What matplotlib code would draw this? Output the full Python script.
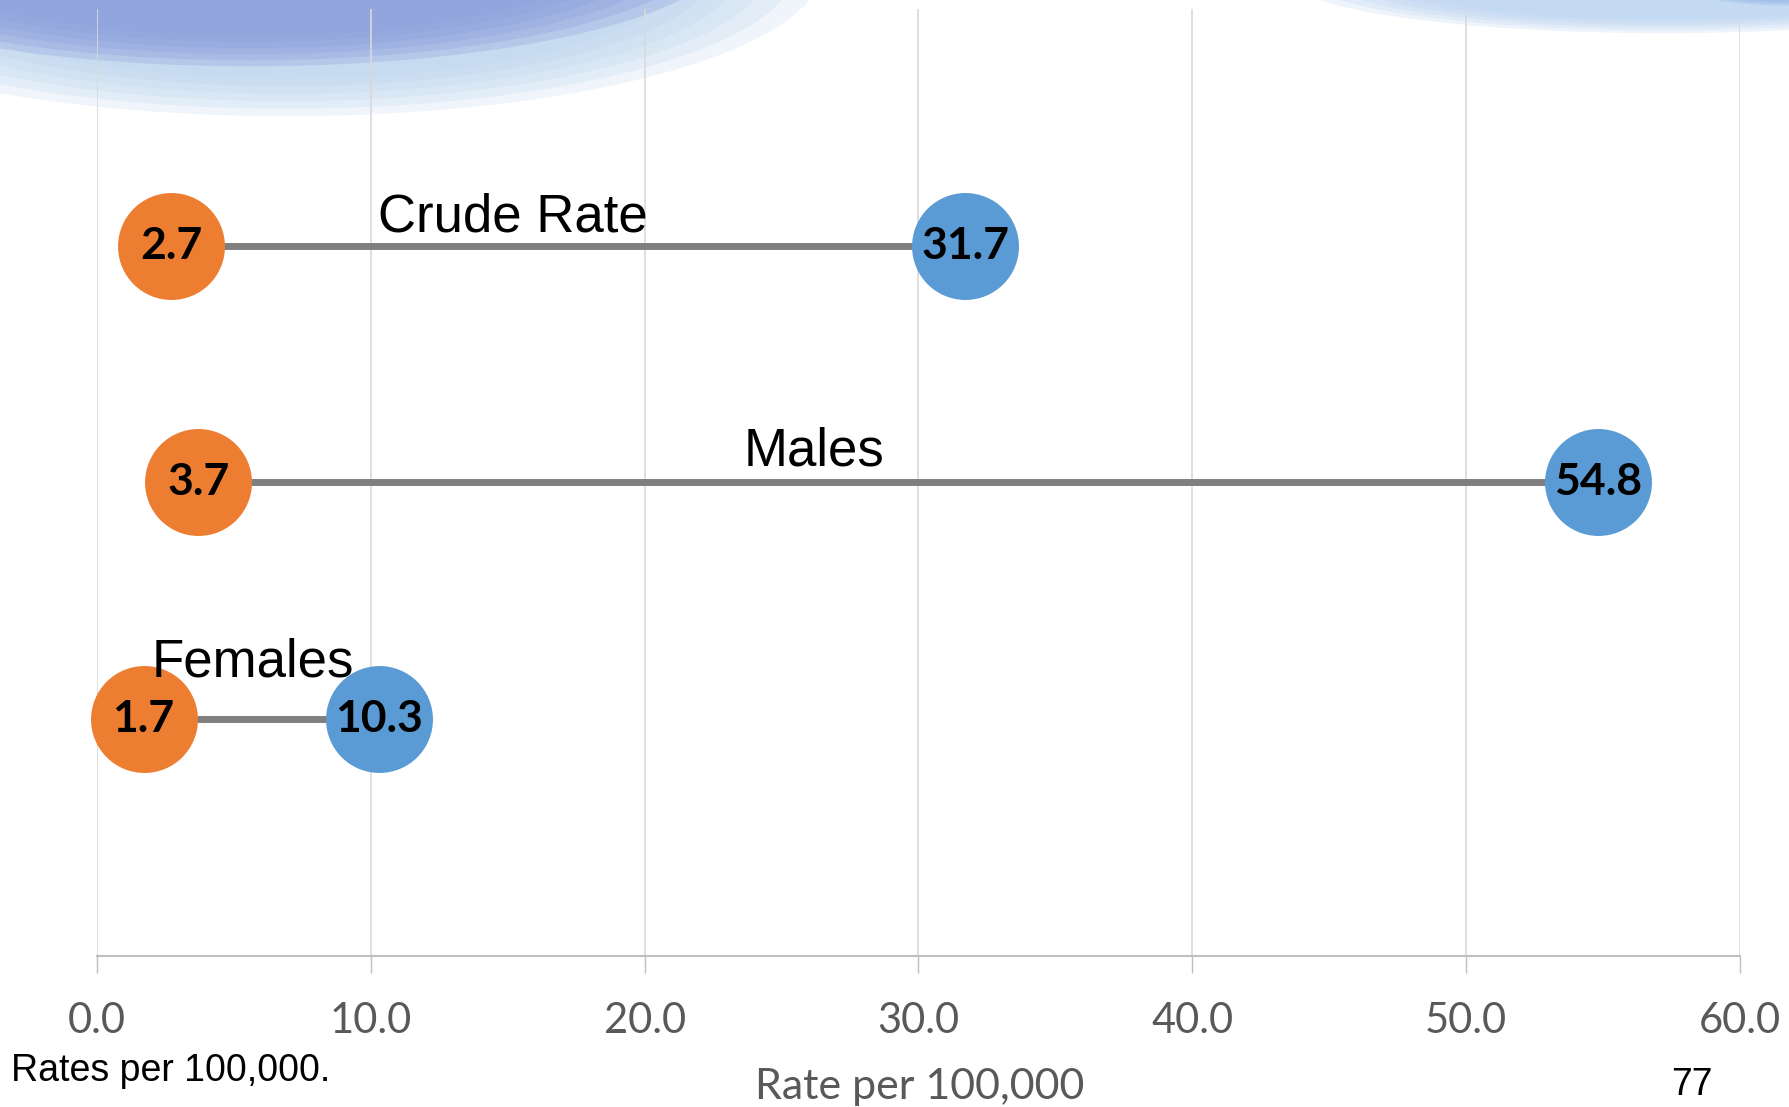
import matplotlib.pyplot as plt
from matplotlib.patches import Ellipse

# ── data ────────────────────────────────────────────────────────────────
groups = ["Crude Rate", "Males", "Females"]
rate_low = [2.7, 3.7, 1.7]       # orange end
rate_high = [31.7, 54.8, 10.3]   # blue end
x_ticks = [0, 10, 20, 30, 40, 50, 60]

# label placement (data x, offset above row)
label_x = [15.2, 26.2, 5.7]
label_dy = [0.12, 0.13, 0.24]

ORANGE = "#ED7D31"
BLUE = "#5B9BD5"
GREY_LINE = "#7F7F7F"
TICK_GREY = "#595959"

fig = plt.figure(figsize=(17.89, 11.07), dpi=100)
ax = fig.add_axes([0.0542, 0.1364, 0.9184, 0.8555])
ax.set_facecolor("none")

# ── soft header swoosh behind the axes ──────────────────────────────────
def soft_ellipse(cx, cy, w, h, color, steps=6, alpha=0.22):
    for i in range(steps):
        f = 1 - i * 0.05
        fig.add_artist(Ellipse((cx, cy), w * f, h * f, transform=fig.transFigure,
                               color=color, alpha=alpha, lw=0, zorder=-2))

soft_ellipse(0.16, 1.03, 0.60, 0.27, "#B9D3EE")
soft_ellipse(0.14, 1.05, 0.54, 0.22, "#8C9FDC", alpha=0.3)
soft_ellipse(0.93, 1.02, 0.42, 0.10, "#B4D0F0")
soft_ellipse(1.00, 1.03, 0.16, 0.07, "#93B4E8", alpha=0.3)

ys = [3, 2, 1]
for y, lo, hi, name, lx, dy in zip(ys, rate_low, rate_high, groups, label_x, label_dy):
    ax.plot([lo, hi], [y, y], color=GREY_LINE, lw=5, solid_capstyle="butt", zorder=2)
    ax.plot(lo, y, "o", ms=77, color=ORANGE, mec="none", zorder=3, clip_on=False)
    ax.plot(hi, y, "o", ms=77, color=BLUE, mec="none", zorder=3, clip_on=False)
    for v in (lo, hi):
        ax.text(v, y, f"{v:.1f}", ha="center", va="center", fontsize=32,
                fontweight="bold", family="Lato", color="black", zorder=4)
    ax.text(lx, y + dy, name, ha="center", va="center", fontsize=38,
            family="Liberation Sans", color="black", zorder=5)

ax.set_xlim(0, 60)
ax.set_ylim(0, 4)
ax.set_xticks(x_ticks)
ax.set_xticklabels([f"{t:.1f}" for t in x_ticks], fontsize=30, family="Lato", color=TICK_GREY)
ax.set_yticks([])
ax.tick_params(axis="x", length=12, width=1, color="#BFBFBF", pad=21)
ax.grid(axis="x", color="#D9D9D9", lw=1.2)
ax.set_axisbelow(True)
for side in ("top", "right", "left"):
    ax.spines[side].set_visible(False)
ax.spines["bottom"].set_color("#BFBFBF")
ax.spines["bottom"].set_linewidth(1.5)

fig.text(0.514, 1 - 1087 / 1107, "Rate per 100,000", ha="center", va="center",
         fontsize=31, family="Lato", color=TICK_GREY)
fig.text(11 / 1789, 1 - 1071 / 1107, "Rates per 100,000.", ha="left", va="center",
         fontsize=27, family="Liberation Sans", color="black")
fig.text(1692 / 1789, 1 - 1085 / 1107, "77", ha="center", va="center",
         fontsize=27, family="Liberation Sans", color="black")

fig.savefig("out.png", dpi=100)
